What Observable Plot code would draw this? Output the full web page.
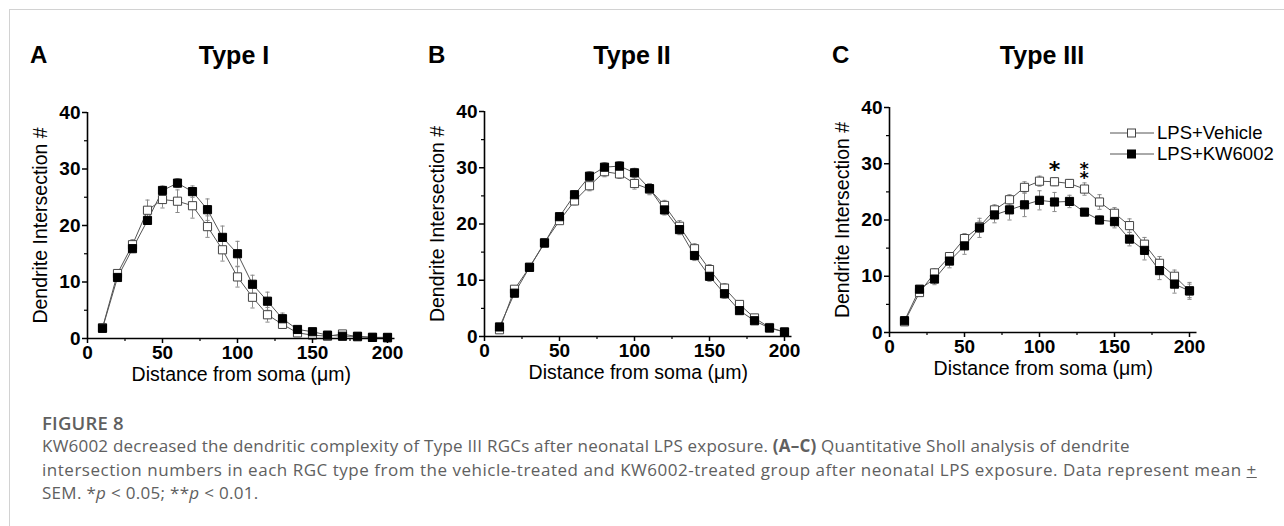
<!DOCTYPE html>
<html>
<head>
<meta charset="utf-8">
<script src="https://cdn.jsdelivr.net/npm/d3@7"></script>
<script src="https://cdn.jsdelivr.net/npm/@observablehq/plot@0.6"></script>
<style>
  html, body { margin: 0; padding: 0; background: #fff; }
  #page { position: relative; width: 1284px; height: 526px; overflow: hidden; background: #fff; }
  #frame { position: absolute; left: 9px; top: 9px; width: 1290px; height: 530px; border-left: 1.5px solid #d2d2d2; border-top: 1.5px solid #d2d2d2; }
  .abs { position: absolute; }
  .letter { font: bold 24px "Liberation Sans", Arial, sans-serif; line-height: 24px; color: #000; }
  .title { font: bold 25px "Liberation Sans", Arial, sans-serif; line-height: 26px; color: #000; text-align: center; width: 240px; }
  .legend { font: 18.5px "Liberation Sans", Arial, sans-serif; color: #000; line-height: 21px; }
  .legend .row { display: flex; align-items: center; height: 21px; }
  .legend svg { margin-right: 3px; }
  .capHead { font: 600 18.5px "Open Sans", sans-serif; color: #606060; left: 42px; top: 411px; line-height: 24px; letter-spacing: 0.2px; }
  .capText { font: 17px "Open Sans", sans-serif; color: #606060; left: 42px; top: 434px; line-height: 23.6px; white-space: nowrap; }
  .capText div { height: 23.6px; }
</style>
</head>
<body>
<div id="page">
  <div id="frame"></div>
</div>
<script>
// ---------------- data ----------------
const distance = [10, 20, 30, 40, 50, 60, 70, 80, 90, 100, 110, 120, 130, 140, 150, 160, 170, 180, 190, 200];
const seriesNames = ["LPS+Vehicle", "LPS+KW6002"];
const xTicks = [0, 50, 100, 150, 200];
const xMinorTicks = [25, 75, 125, 175];
const yTicks = [0, 10, 20, 30, 40];
const yMinorTicks = [5, 15, 25, 35];

// Type I
const typeI_vehicle     = [1.9, 11.5, 16.6, 22.7, 24.6, 24.3, 23.5, 19.8, 15.7, 10.9, 7.3, 4.2, 2.5, 1.0, 0.6, 0.4, 0.8, 0.3, 0.2, 0.1];
const typeI_vehicle_sem = [0.5, 0.5, 0.9, 1.8, 1.5, 2.0, 2.2, 1.9, 2.0, 1.8, 1.9, 1.3, 0.7, 0.5, 0.3, 0.3, 0.3, 0.2, 0.2, 0.1];
const typeI_kw          = [1.8, 10.8, 15.9, 20.9, 26.2, 27.5, 26.0, 22.8, 17.9, 15.0, 9.6, 6.6, 3.5, 1.6, 1.2, 0.6, 0.4, 0.4, 0.2, 0.2];
const typeI_kw_sem      = [0.4, 0.6, 0.7, 0.7, 0.8, 0.8, 1.0, 1.9, 2.0, 2.2, 1.6, 1.6, 1.0, 0.5, 0.4, 0.3, 0.2, 0.2, 0.2, 0.2];

// Type II
const typeII_vehicle     = [1.2, 8.4, 12.3, 16.7, 20.6, 24.1, 26.8, 29.3, 28.9, 27.2, 26.2, 23.3, 19.6, 15.6, 11.9, 8.6, 5.7, 3.3, 1.6, 0.8];
const typeII_vehicle_sem = [0.5, 0.5, 0.5, 0.5, 0.6, 0.7, 0.9, 0.9, 0.8, 1.0, 1.0, 0.9, 1.0, 0.9, 0.9, 0.8, 0.6, 0.5, 0.4, 0.3];
const typeII_kw          = [1.7, 7.7, 12.3, 16.6, 21.3, 25.2, 28.5, 30.1, 30.3, 29.1, 26.3, 22.5, 19.0, 14.4, 10.7, 7.6, 4.6, 2.8, 1.5, 0.8];
const typeII_kw_sem      = [0.5, 0.5, 0.5, 0.5, 0.6, 0.7, 0.8, 0.8, 0.8, 0.8, 0.9, 0.9, 0.9, 0.9, 0.9, 0.8, 0.6, 0.5, 0.4, 0.3];

// Type III
const typeIII_vehicle     = [1.9, 7.1, 10.6, 13.5, 16.7, 18.8, 21.8, 23.6, 25.8, 26.9, 26.8, 26.5, 25.5, 23.2, 21.2, 19.0, 15.7, 12.3, 10.0, 7.4];
const typeIII_vehicle_sem = [0.5, 0.5, 0.7, 0.7, 0.9, 1.0, 0.9, 0.9, 1.0, 0.9, 0.7, 0.7, 1.1, 1.3, 1.0, 1.2, 1.2, 1.2, 1.1, 1.2];
const typeIII_kw          = [2.1, 7.7, 9.5, 12.7, 15.4, 18.6, 20.9, 21.8, 22.7, 23.5, 23.2, 23.3, 21.4, 20.0, 19.7, 16.6, 14.6, 11.0, 8.6, 7.4];
const typeIII_kw_sem      = [0.5, 0.4, 1.0, 1.2, 1.5, 1.7, 1.4, 1.8, 2.1, 1.7, 1.7, 1.1, 0.5, 0.7, 1.1, 1.2, 1.7, 1.6, 1.6, 1.5];

// significance markers (Type III): "*" at 110 µm, "**" (stacked) at 130 µm
const sigX = [110, 130];
const sigY = [29.7, 29.5];
const sigLabel = ["*", "\u2051"];

const panelLetters = ["A", "B", "C"];
const panelTitles = ["Type I", "Type II", "Type III"];
const xLabel = "Distance from soma (\u03bcm)";
const yLabel = "Dendrite Intersection #";

// ---------------- layout ----------------
const page = document.getElementById("page");
const FONT = '"Liberation Sans", Arial, sans-serif';

const layout = [
  {axisX: 87,  topY: 112, plotH: 226, letterX: 30,  titleCX: 234},
  {axisX: 484, topY: 111, plotH: 225, letterX: 428, titleCX: 632},
  {axisX: 889, topY: 107, plotH: 225, letterX: 832, titleCX: 1042}
];
const seriesData = [
  [typeI_vehicle, typeI_vehicle_sem, typeI_kw, typeI_kw_sem],
  [typeII_vehicle, typeII_vehicle_sem, typeII_kw, typeII_kw_sem],
  [typeIII_vehicle, typeIII_vehicle_sem, typeIII_kw, typeIII_kw_sem]
];

const mL = 70, mR = 12, mT = 20, mB = 60;
const pxPerUnit = 1.5;
const xMax = 205;

layout.forEach((L, p) => {
  const [veh, vehSem, kw, kwSem] = seriesData[p];
  const rows = distance.flatMap((d, i) => [
    {x: d, y: veh[i], se: vehSem[i], group: seriesNames[0]},
    {x: d, y: kw[i], se: kwSem[i], group: seriesNames[1]}
  ]);
  const vehRows = rows.filter(r => r.group === seriesNames[0]);
  const kwRows = rows.filter(r => r.group === seriesNames[1]);
  const cap = 1.4;
  const errColor = "#8a8a8a";

  const marks = [
    // error bars
    Plot.ruleX(rows, {x: "x", y1: d => Math.max(0, d.y - d.se), y2: d => d.y + d.se, stroke: errColor, strokeWidth: 1}),
    Plot.link(rows, {x1: d => d.x - cap, x2: d => d.x + cap, y1: d => d.y + d.se, y2: d => d.y + d.se, stroke: errColor, strokeWidth: 1}),
    Plot.link(rows.filter(d => d.y - d.se > 0), {x1: d => d.x - cap, x2: d => d.x + cap, y1: d => d.y - d.se, y2: d => d.y - d.se, stroke: errColor, strokeWidth: 1}),
    // lines
    Plot.line(rows, {x: "x", y: "y", z: "group", stroke: "#555", strokeWidth: 1}),
    // markers
    Plot.dot(vehRows, {x: "x", y: "y", symbol: "square", r: 4.6, fill: "white", stroke: "#444", strokeWidth: 1}),
    Plot.dot(kwRows, {x: "x", y: "y", symbol: "square", r: 4.6, fill: "black", stroke: "black", strokeWidth: 1}),
    // axes lines
    Plot.ruleY([0], {stroke: "black", strokeWidth: 1.6}),
    Plot.ruleX([0], {stroke: "black", strokeWidth: 1.6}),
    // ticks
    Plot.axisX({ticks: xTicks, tickSize: 5, tickPadding: 2, strokeWidth: 1.5, fontWeight: "bold", fontSize: 19, label: null}),
    Plot.axisX({ticks: xMinorTicks, tickSize: 3, strokeWidth: 1.2, tickFormat: () => "", label: null}),
    Plot.axisY({ticks: yTicks, tickSize: 5, tickPadding: 2, strokeWidth: 1.5, fontWeight: "bold", fontSize: 19, label: null}),
    Plot.axisY({ticks: yMinorTicks, tickSize: 3, strokeWidth: 1.2, tickFormat: () => "", label: null}),
    // axis titles
    Plot.text([xLabel], {frameAnchor: "bottom", lineAnchor: "middle", dy: 36, fontSize: 19.5, fill: "black"}),
    Plot.text([yLabel], {frameAnchor: "left", textAnchor: "middle", lineAnchor: "middle", dx: -47, rotate: -90, fontSize: 19.5, fill: "black"})
  ];
  if (p === 2) {
    const sig = sigX.map((x, i) => ({x, y: sigY[i], label: sigLabel[i]}));
    marks.push(Plot.text(sig, {x: "x", y: "y", text: "label", fontSize: 22, fontWeight: "bold", fontFamily: "DejaVu Sans", lineAnchor: "middle", dy: 5, fill: "black"}));
  }

  const width = mL + xMax * pxPerUnit + mR;
  const height = mT + L.plotH + mB;
  const chart = Plot.plot({
    width, height,
    marginLeft: mL, marginRight: mR, marginTop: mT, marginBottom: mB,
    x: {domain: [0, xMax]},
    y: {domain: [0, 40]},
    style: {fontFamily: FONT, fontSize: "19px", color: "black", background: "transparent", overflow: "visible"},
    marks
  });
  chart.style.position = "absolute";
  chart.style.left = (L.axisX - mL) + "px";
  chart.style.top = (L.topY - mT) + "px";
  page.appendChild(chart);

  const letter = document.createElement("div");
  letter.className = "abs letter";
  letter.textContent = panelLetters[p];
  letter.style.left = L.letterX + "px";
  letter.style.top = "43px";
  page.appendChild(letter);

  const title = document.createElement("div");
  title.className = "abs title";
  title.textContent = panelTitles[p];
  title.style.left = (L.titleCX - 120) + "px";
  title.style.top = "42px";
  page.appendChild(title);
});

// legend (panel C)
const legend = document.createElement("div");
legend.className = "abs legend";
legend.style.left = "1110px";
legend.style.top = "122px";
seriesNames.forEach((name, i) => {
  const row = document.createElement("div");
  row.className = "row";
  const filled = i === 1;
  row.innerHTML = `<svg width="44" height="14" viewBox="0 0 44 14"><line x1="0" y1="7" x2="44" y2="7" stroke="#555" stroke-width="1"/><rect x="17.5" y="3" width="8" height="8" fill="${filled ? "black" : "white"}" stroke="${filled ? "black" : "#444"}" stroke-width="1"/></svg><span>${name}</span>`;
  legend.appendChild(row);
});
page.appendChild(legend);

// caption
const head = document.createElement("div");
head.className = "abs capHead";
head.textContent = "FIGURE 8";
page.appendChild(head);

const cap = document.createElement("div");
cap.className = "abs capText";
cap.innerHTML =
  '<div style="letter-spacing:0.22px">KW6002 decreased the dendritic complexity of Type III RGCs after neonatal LPS exposure. <b>(A\u2013C)</b> Quantitative Sholl analysis of dendrite</div>' +
  '<div style="letter-spacing:0.52px">intersection numbers in each RGC type from the vehicle-treated and KW6002-treated group after neonatal LPS exposure. Data represent mean <u>+</u></div>' +
  '<div style="letter-spacing:0.3px">SEM. *<i>p</i> &lt; 0.05; **<i>p</i> &lt; 0.01.</div>';
page.appendChild(cap);
</script>
</body>
</html>
